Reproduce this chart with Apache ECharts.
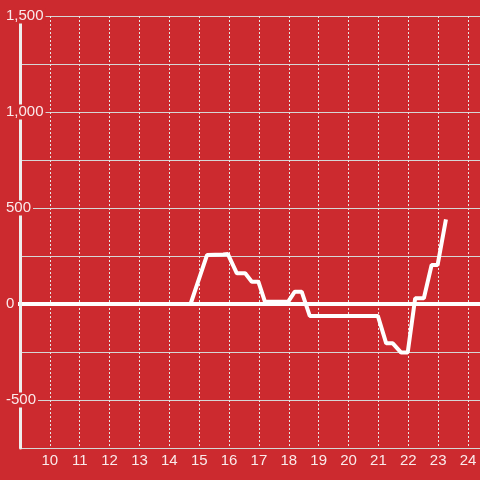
<!DOCTYPE html>
<html>
<head>
<meta charset="utf-8">
<script src="https://cdn.jsdelivr.net/npm/echarts@6/dist/echarts.min.js"></script>
<style>
  html, body { margin: 0; padding: 0; background: #cc2a2f; }
  #chart { width: 480px; height: 480px; }
</style>
</head>
<body>
<div id="chart"></div>
<script>
// hours on the x axis and the values
const hours = [9, 14.71, 15.26, 15.8, 15.96, 16.26, 16.54, 16.76, 16.98, 17.2, 17.98, 18.2, 18.43, 18.7, 20.98, 21.26, 21.48, 21.76, 21.98, 22.23, 22.52, 22.78, 22.98, 23.26]
const values = [0, 0, 255, 258, 260, 160, 160, 116, 116, 12, 12, 64, 64, -62, -62, -205, -205, -253, -253, 30, 30, 203, 203, 441]
const yLabelValues = [-500, 0, 500, 1000, 1500]

const bg = '#cc2a2f'
const font = 'Liberation Sans, Arial, sans-serif'

let myChart = echarts.init(document.getElementById('chart'))
myChart.setOption({
  animation: false,
  backgroundColor: bg,
  grid: { left: 20, right: -2, top: 16, bottom: 32 },
  xAxis: {
    type: 'value',
    min: 9,
    max: 24.4,
    interval: 1,
    axisLine: { show: true, lineStyle: { color: '#d6d6d6', width: 1 } },
    axisTick: { show: false },
    axisLabel: {
      color: 'rgba(255,255,255,0.9)',
      fontSize: 15,
      fontFamily: font,
      margin: 5,
      showMinLabel: false,
      showMaxLabel: false,
    },
    // 竖向虚线
    splitLine: { show: true, lineStyle: { color: '#e6e6e6', type: [2, 2], width: 1 } },
  },
  yAxis: [
    {
      // 只画横向网格线
      type: 'value',
      position: 'left',
      min: -750,
      max: 1500,
      interval: 250,
      axisLine: { show: false },
      axisTick: { show: false },
      axisLabel: { show: false },
      splitLine: { show: true, lineStyle: { color: '#d6d6d6', width: 1 } },
    },
    {
      // 轴线和标签，盖在零线上面
      type: 'value',
      position: 'left',
      z: 5,
      min: -750,
      max: 1500,
      interval: 250,
      axisLine: { show: true, lineStyle: { color: '#eeeeee', width: 3 } },
      axisTick: { show: false },
      splitLine: { show: false },
      axisLabel: {
        align: 'left',
        margin: 16,
        formatter: function (v) {
          if (yLabelValues.indexOf(v) < 0) return ''
          return '{a|' + v.toLocaleString('en-US') + '}'
        },
        rich: {
          a: {
            color: 'rgba(255,255,255,0.9)',
            fontSize: 15,
            fontFamily: font,
            backgroundColor: bg,
            padding: [0, 2, 0, 2],
            lineHeight: 16,
          },
        },
      },
    },
  ],
  series: {
    type: 'line',
    data: hours.map((h, i) => [h, values[i]]),
    showSymbol: false,
    lineStyle: { color: '#ffffff', width: 4 },
    itemStyle: { color: '#ffffff' },
    markLine: {
      silent: true,
      symbol: ['none', 'none'],
      label: { show: false },
      lineStyle: { color: '#ffffff', width: 4, type: 'solid', cap: 'square' },
      data: [{ yAxis: 0 }],
    },
  },
})
</script>
</body>
</html>
